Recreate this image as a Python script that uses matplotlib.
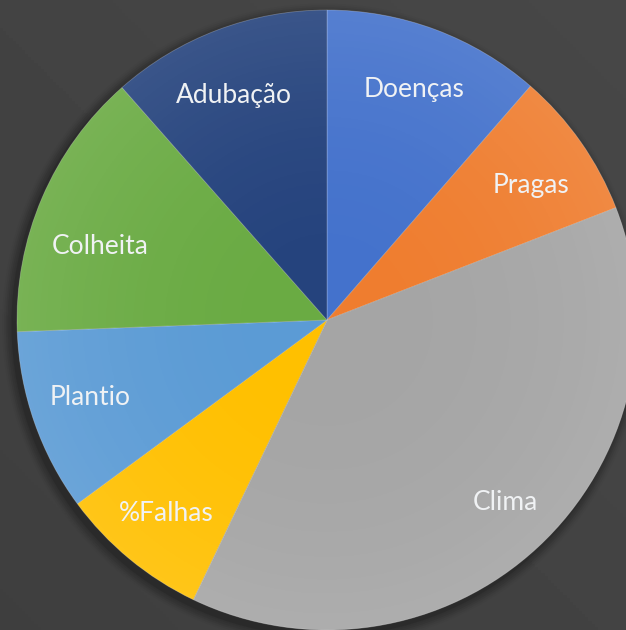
import numpy as np
import matplotlib.pyplot as plt
from matplotlib.patches import Circle

# share of each problem (percent), clockwise from 12 o'clock
categorias = ['Doenças', 'Pragas', 'Clima', '%Falhas', 'Plantio', 'Colheita', 'Adubação']
valores = [11.4, 7.7, 38.0, 7.8, 9.5, 14.1, 11.5]
cores = ['#4472cc', '#ef7d2f', '#a5a5a5', '#ffc000', '#5b9bd5', '#6aab43', '#25437d']
# small nudges (pixels, right / down) applied to the label placed by pie()
ajustes = [(0, 2), (1, 8), (10, 1), (-3, 2), (-3, -4), (1, 24), (-5, 7)]

W, H = 626, 630
cx, cy, R = 327, 320, 310

fig = plt.figure(figsize=(W / 100, H / 100), dpi=100)
ax = fig.add_axes([0, 0, 1, 1])
xlim = (-cx / R, (W - cx) / R)
ylim = ((cy - H) / R, cy / R)

# dark gray backdrop, slightly lighter towards the top right
gx, gy = np.meshgrid(np.linspace(0, 1, 200), np.linspace(0, 1, 200))
fundo = 0.245 + 0.035 * (gx * 0.5 + (1 - gy) * 0.5)
ax.imshow(fundo, cmap='gray', vmin=0, vmax=1, extent=xlim + ylim,
          origin='upper', zorder=0, aspect='auto')

# soft shadow under the pie
for i, a in enumerate(np.linspace(0.10, 0.02, 6)):
    ax.add_patch(Circle((-0.012, -0.015), 1.0 + 0.006 * (i + 1), color='black',
                        alpha=a, lw=0, zorder=1))

wedges, textos = ax.pie(valores, labels=categorias, colors=cores, startangle=90,
                        counterclock=False, radius=1.0, labeldistance=0.8,
                        wedgeprops=dict(linewidth=0.6, edgecolor=(1, 1, 1, 0.25)),
                        textprops=dict(color='#f0f2f4', fontsize=19, family='Lato'))
for w in wedges:
    w.set_zorder(2)
for t, (dx, dy) in zip(textos, ajustes):
    x, y = t.get_position()
    t.set_position((x + dx / R, y - dy / R))
    t.set_ha('center')
    t.set_va('center')
    t.set_zorder(4)

# light radial sheen on top of the slices
r = np.hypot(*np.meshgrid(np.linspace(-1, 1, 300), np.linspace(-1, 1, 300)))
brilho = np.zeros((300, 300, 4))
brilho[..., :3] = 1.0
brilho[..., 3] = np.clip(r, 0, 1) ** 2 * 0.10
img = ax.imshow(brilho, extent=(-1, 1, -1, 1), zorder=3)
img.set_clip_path(Circle((0, 0), 1.0, transform=ax.transData))

ax.set_xlim(xlim)
ax.set_ylim(ylim)
ax.set_aspect('equal')
ax.axis('off')

fig.savefig('out.png', dpi=100)
